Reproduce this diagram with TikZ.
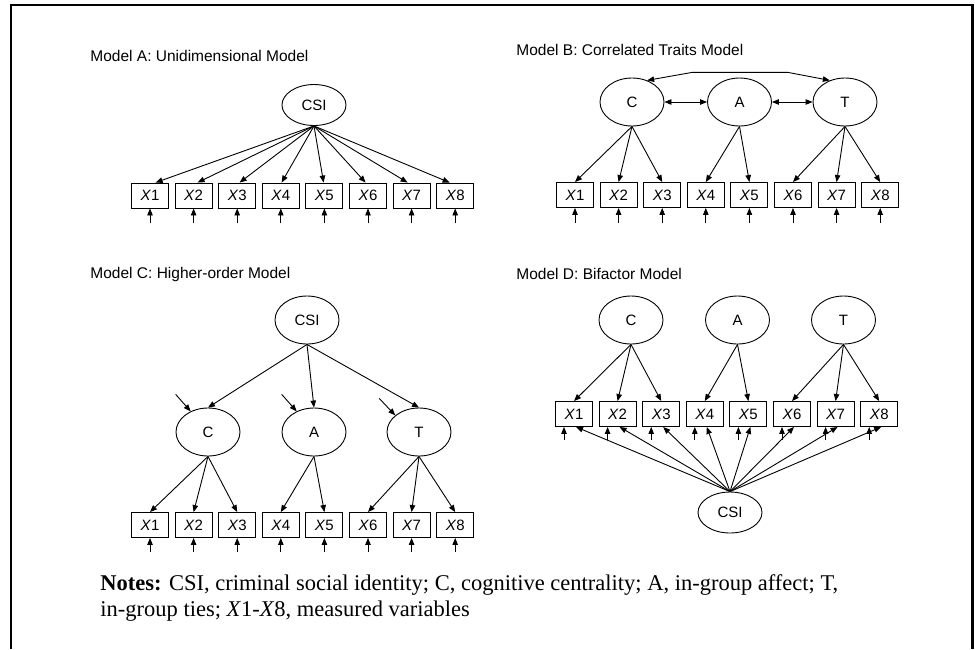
\documentclass[tikz,border=0pt]{standalone}
\usepackage{fontspec}
\setmainfont{Liberation Serif}
\setsansfont{Liberation Sans}
\usepackage{tikz}
\usetikzlibrary{arrows.meta, positioning, shapes.geometric, calc}

\begin{document}
\begin{tikzpicture}[
    x=1pt, y=-1pt, line width=0.9pt,
    lat/.style={draw, ellipse, minimum width=64pt, minimum height=48pt, inner sep=0pt,
                font=\sffamily\fontsize{15}{18}\selectfont},
    obs/.style={draw, rectangle, minimum width=37pt, minimum height=25pt, inner sep=0pt,
                font=\sffamily\fontsize{15}{18}\selectfont},
    ttl/.style={anchor=base west, inner sep=0pt, font=\sffamily\fontsize{15.5}{18}\selectfont},
    note/.style={anchor=base west, inner sep=0pt, font=\fontsize{22.5}{26}\selectfont},
    arr/.style={-{Stealth[length=7pt, width=5.5pt, inset=0pt]}},
    bi/.style={{Stealth[length=7pt, width=5.5pt, inset=0pt]}-{Stealth[length=7pt, width=5.5pt, inset=0pt]}},
]
    \useasboundingbox (0,0) rectangle (975,649);
    \draw[line width=2.5pt] (11,649) -- (11,5) -- (972.5,5) -- (972.5,649);

    \node[ttl] (tA) at (90,61) {Model A: Unidimensional Model};
    \node[ttl] (tB) at (516,55) {Model B: Correlated Traits Model};
    \node[ttl] (tC) at (90,278) {Model C: Higher-order Model};
    \node[ttl] (tD) at (516,279) {Model D: Bifactor Model};

    \node[lat, minimum height=41pt] (aG) at (314,105) {CSI};
    \node[lat] (bC) at (632,102) {C};
    \node[lat] (bA) at (739.5,102) {A};
    \node[lat] (bT) at (845,102) {T};
    \node[lat] (cG) at (307,320) {CSI};
    \node[lat] (cC) at (208,432) {C};
    \node[lat] (cA) at (314,432) {A};
    \node[lat] (cT) at (419,432) {T};
    \node[lat] (dC) at (631,320) {C};
    \node[lat] (dA) at (737.5,320) {A};
    \node[lat] (dT) at (843.5,320) {T};
    \node[lat, minimum height=41pt] (dG) at (730,512.5) {CSI};

    \foreach \i in {1,...,8} {
        \node[obs] (a\i) at ({150+43.6*(\i-1)},195.5) {\textit{X}\i};
        \node[obs] (b\i) at ({575+43.6*(\i-1)},195) {\textit{X}\i};
        \node[obs] (c\i) at ({150+43.6*(\i-1)},525) {\textit{X}\i};
        \node[obs] (d\i) at ({574+43.6*(\i-1)},414) {\textit{X}\i};
        \draw[arr] ($(a\i.south)+(0,15)$) -- (a\i.south);
        \draw[arr] ($(b\i.south)+(0,15)$) -- (b\i.south);
        \draw[arr] ($(c\i.south)+(0,14)$) -- (c\i.south);
        \draw[arr] ($(d\i.south)+(-10,13)$) -- ($(d\i.south)+(-10,0)$);
        \draw[arr] (aG.south) -- ($(a\i.north)+({(4.5-\i)*1.6},0)$);
        \draw[arr] (dG.north) -- ($(d\i.south)+(2,0)$);
    }

    \foreach \j in {1,2,3} {
        \draw[arr] (bC.south) -- (b\j.north);
        \draw[arr] (cC.south) -- (c\j.north);
        \draw[arr] (dC.south) -- (d\j.north);
    }
    \foreach \j in {4,5} {
        \draw[arr] (bA.south) -- (b\j.north);
        \draw[arr] (cA.south) -- (c\j.north);
        \draw[arr] (dA.south) -- (d\j.north);
    }
    \foreach \j in {6,7,8} {
        \draw[arr] (bT.south) -- (b\j.north);
        \draw[arr] (cT.south) -- (c\j.north);
        \draw[arr] (dT.south) -- (d\j.north);
    }

    \draw[bi] (bC) -- (bA);
    \draw[bi] (bA) -- (bT);
    \draw[bi] (bC.55) -- ($(bC.55)+(45,-8)$) -- ($(bT.125)+(-42,-8)$) -- (bT.125);

    \foreach \n in {cC,cA,cT}
        \draw[arr] (cG.south) -- (\n.north);
    \draw[arr] ($(cC.130)+(-15,-17)$) -- (cC.130);
    \draw[arr] ($(cA.130)+(-15,-17)$) -- (cA.130);
    \draw[arr] ($(cT.145)+(-16,-17)$) -- (cT.145);

    \node[note] (n1) at (100,590) {\textbf{Notes:} CSI, criminal social identity; C, cognitive centrality; A, in-group affect; T,};
    \node[note] (n2) at (100,616) {in-group ties; \textit{X}1-\textit{X}8, measured variables};
\end{tikzpicture}
\end{document}
